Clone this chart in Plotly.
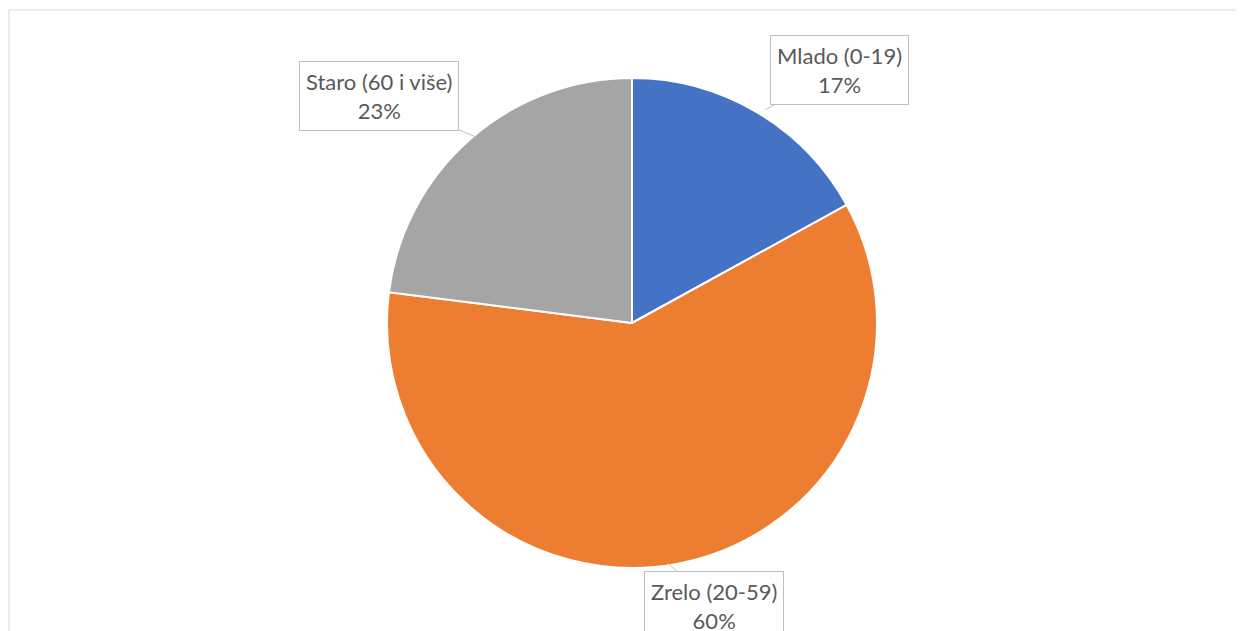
import plotly.graph_objects as go

labels = ['Mlado (0-19)', 'Zrelo (20-59)', 'Staro (60 i više)']
values = [17, 60, 23]
colors = ['#4472C4', '#ED7D31', '#A5A5A5']

W, H = 1244, 631
OFF = 8  # page body margin in the browser

# label callouts: arrow tip (px from top-left) and box offset (px)
callouts = [
    dict(x=765, y=110, ax=74, ay=-40),
    dict(x=668, y=563, ax=46, ay=43),
    dict(x=476, y=137, ax=-97, ay=-41),
]

cx, cy, r = 632 - OFF, 323 - OFF, 245

fig = go.Figure(go.Pie(
    labels=labels,
    values=values,
    marker=dict(colors=colors, line=dict(color='white', width=2)),
    sort=False,
    direction='clockwise',
    rotation=0,
    textinfo='none',
    hoverinfo='label+percent',
    domain=dict(x=[(cx - r) / W, (cx + r) / W],
                y=[(H - cy - r) / H, (H - cy + r) / H]),
    showlegend=False,
))

total = sum(values)
for lab, val, c in zip(labels, values, callouts):
    fig.add_annotation(
        xref='paper', yref='paper',
        x=(c['x'] - OFF) / W, y=1 - (c['y'] - OFF) / H,
        ax=c['ax'], ay=c['ay'],
        text=f"{lab}<br>{round(100 * val / total)}%",
        showarrow=True, arrowhead=0, arrowwidth=1, arrowcolor='#BFBFBF',
        bordercolor='#BFBFBF', borderwidth=1, borderpad=6, bgcolor='white',
        font=dict(family='Lato', size=22, color='#595959'),
        align='center',
    )

# chart area frame
fig.add_shape(type='rect', xref='paper', yref='paper',
              x0=(9 - OFF) / W, x1=1.02, y0=-0.02, y1=1 - (10 - OFF) / H,
              line=dict(color='#D9D9D9', width=1))

fig.update_layout(
    width=W, height=H,
    margin=dict(l=0, r=0, t=0, b=0),
    paper_bgcolor='white',
    plot_bgcolor='white',
)

fig.write_html("out.html")
